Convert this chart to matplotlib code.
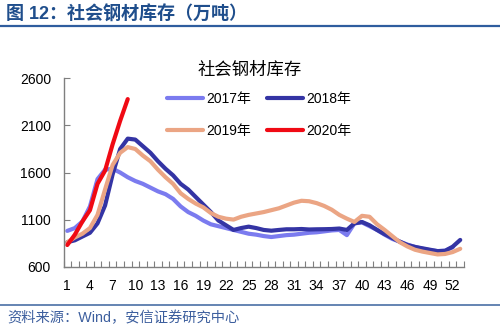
import numpy as np
import matplotlib.pyplot as plt
from matplotlib.lines import Line2D

plt.rcParams['font.family'] = ['Liberation Sans', 'Noto Sans CJK SC', 'DejaVu Sans']

# weekly social steel inventory, 10k tonnes
inv_2017 = [980, 1010, 1080, 1240, 1530, 1630, 1640, 1600, 1550, 1510,
            1480, 1440, 1400, 1370, 1320, 1240, 1180, 1140, 1090, 1050,
            1030, 1010, 990, 970, 950, 940, 925, 915, 925, 935,
            940, 950, 960, 965, 975, 985, 990, 935, 1060, 1070,
            1030, 990, 940, 895, 865, 835, 810, 790, 775, 765,
            770, 805]
inv_2018 = [860, 880, 920, 960, 1060, 1250, 1580, 1850, 1960, 1950,
            1880, 1810, 1720, 1640, 1570, 1480, 1420, 1340, 1260, 1180,
            1090, 1040, 990, 1010, 1025, 1010, 990, 982, 990, 997,
            997, 1000, 995, 997, 998, 1000, 1005, 990, 1060, 1075,
            1040, 990, 945, 905, 866, 830, 810, 795, 780, 765,
            768, 812, 884]
inv_2019 = [860, 910, 950, 1010, 1150, 1420, 1680, 1810, 1870, 1850,
            1780, 1720, 1630, 1550, 1480, 1380, 1320, 1270, 1230, 1170,
            1130, 1110, 1100, 1130, 1150, 1165, 1180, 1200, 1220, 1250,
            1280, 1300, 1295, 1275, 1245, 1205, 1150, 1110, 1075, 1140,
            1130, 1050, 990, 925, 860, 815, 780, 760, 745, 730,
            735, 755, 790]
inv_2020 = [830, 940, 1080, 1200, 1480, 1620, 1900, 2150, 2380]

series = [
    ('2017年', inv_2017, '#7b7bef'),
    ('2018年', inv_2018, '#3434a4'),
    ('2019年', inv_2019, '#eba584'),
    ('2020年', inv_2020, '#f00a14'),
]
xtick_weeks = list(range(1, 53, 3))
yticks = [600, 1100, 1600, 2100, 2600]

fig = plt.figure(figsize=(5, 3.28), dpi=100)
ax = fig.add_axes([0.127, 0.187, 0.801, 0.574])

for name, vals, color in series:
    weeks = np.arange(1, len(vals) + 1)
    ax.plot(weeks, vals, color=color, lw=3.0, solid_capstyle='round',
            solid_joinstyle='round', label=name)

ax.set_xlim(0.5, 53.5)
ax.set_ylim(600, 2600)
ax.set_yticks(yticks)
ax.set_xticks(xtick_weeks)
ax.set_xticks(np.arange(0.5, 54, 1), minor=True)
ax.tick_params(axis='x', which='major', length=0, pad=9, labelsize=10)
ax.tick_params(axis='x', which='minor', direction='in', length=4,
               color='#7f7f7f', width=0.8)
ax.tick_params(axis='y', direction='in', length=4, color='#7f7f7f',
               pad=9, labelsize=10)
for s in ('top', 'right'):
    ax.spines[s].set_visible(False)
for s in ('left', 'bottom'):
    ax.spines[s].set_color('#7f7f7f')
    ax.spines[s].set_linewidth(1.0)

fig.text(0.5, 0.786, '社会钢材库存', ha='center', va='center', fontsize=12.5)

# legend fills column by column, so reorder to get 2017/2018 on the first row
order = [0, 2, 1, 3]
handles = [Line2D([], [], color=series[i][2], lw=3.0, solid_capstyle='round')
           for i in order]
fig.legend(handles, [series[i][0] for i in order], ncol=2, frameon=False,
           loc='upper left', bbox_to_anchor=(0.334, 0.72),
           borderaxespad=0, borderpad=0, handlelength=2.6,
           handletextpad=0.25, columnspacing=1.1, labelspacing=1.32,
           fontsize=10)

# header and footer
fig.text(0.012, 0.955, '图 12：社会钢材库存（万吨）', ha='left', va='center',
         fontsize=13, fontweight='bold', color='#1f4e8c')
fig.add_artist(Line2D([0.0, 1.0], [0.921, 0.921], color='#2f5d9e', lw=1.6))
fig.add_artist(Line2D([0.0, 1.0], [0.07, 0.07], color='#4a6fa5', lw=1.2))
fig.text(0.014, 0.03, '资料来源：Wind，安信证券研究中心', ha='left', va='center',
         fontsize=10.3, color='#3d5f9e')

fig.savefig('out.png', dpi=100)
